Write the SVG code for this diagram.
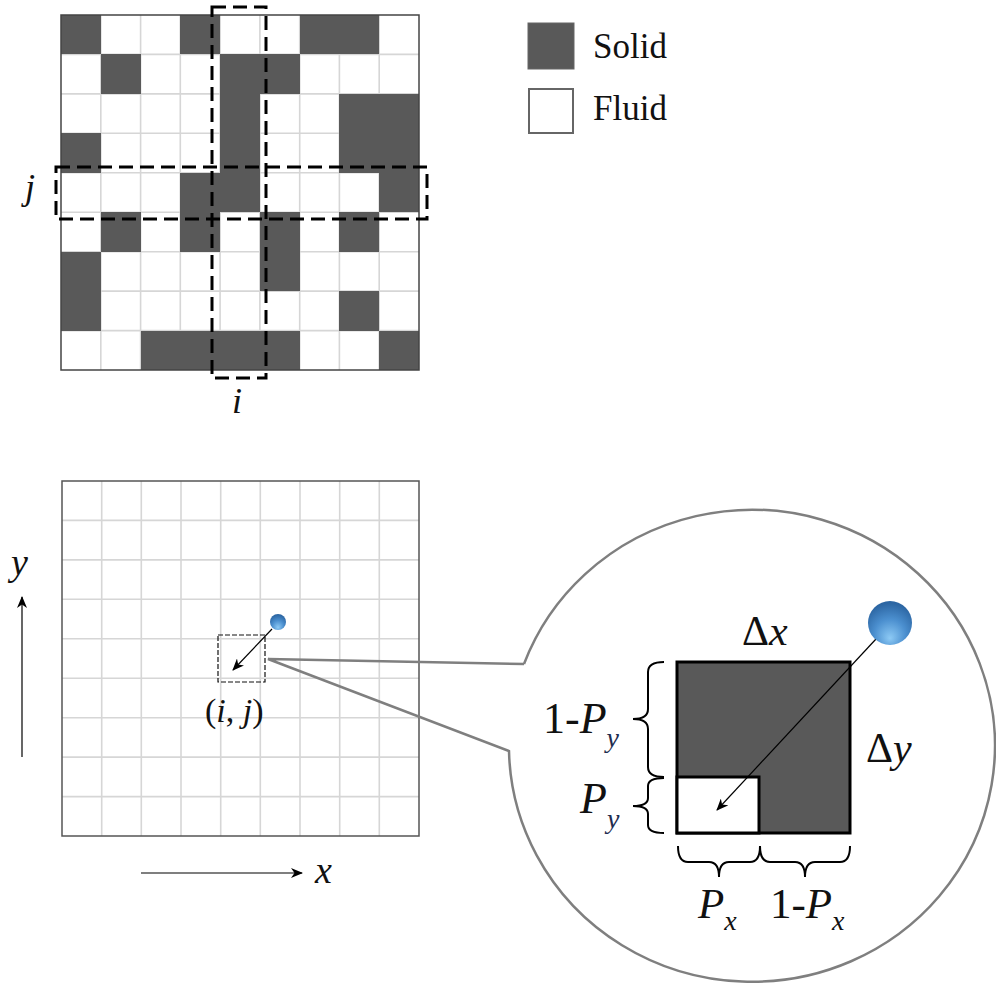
<svg xmlns="http://www.w3.org/2000/svg" width="996" height="988" viewBox="0 0 996 988">
<style>
.t{font-family:"Liberation Serif","Times New Roman",serif;fill:#111}
.it{font-style:italic}
.gl{stroke:#d6d6d6;stroke-width:1.6;fill:none}
.dk{fill:#595959}
.dash{fill:none;stroke:#000;stroke-width:3;stroke-dasharray:14 7}
.brace{fill:none;stroke:#000;stroke-width:2}
.ln{stroke:#000;stroke-width:1.2;fill:none}
.sub{fill:#1f2d50}
</style>
<defs>
<marker id="ah" viewBox="0 0 12 10" refX="11" refY="5" markerWidth="13" markerHeight="10" markerUnits="userSpaceOnUse" orient="auto">
<path d="M0,0 L12,5 L0,10 L3.5,5 Z" fill="#000"/>
</marker>
<radialGradient id="ball" cx="0.5" cy="0.7" r="0.65" fx="0.5" fy="0.85">
<stop offset="0" stop-color="#8dcaf5"/>
<stop offset="0.55" stop-color="#4b8fcf"/>
<stop offset="1" stop-color="#2c66a3"/>
</radialGradient>
</defs>
<rect width="996" height="988" fill="#fff"/>

<g id="top-grid">
<rect x="61" y="15" width="358" height="355" fill="#fff"/>
<path class="gl" d="M100.8,15V370M140.6,15V370M180.3,15V370M220.1,15V370M259.9,15V370M299.7,15V370M339.4,15V370M379.2,15V370M61,54.4H419M61,93.9H419M61,133.3H419M61,172.8H419M61,212.2H419M61,251.7H419M61,291.1H419M61,330.6H419"/>
<g transform="translate(61,15) scale(39.778,39.444)" class="dk" shape-rendering="crispEdges">
<rect x="0" y="0" width="1" height="1"/><rect x="3" y="0" width="1" height="1"/><rect x="6" y="0" width="2" height="1"/>
<rect x="1" y="1" width="1" height="1"/><rect x="4" y="1" width="2" height="1"/>
<rect x="4" y="2" width="1" height="3"/><rect x="7" y="2" width="2" height="2"/>
<rect x="0" y="3" width="1" height="1"/>
<rect x="3" y="4" width="1" height="2"/><rect x="8" y="4" width="1" height="1"/>
<rect x="1" y="5" width="1" height="1"/><rect x="5" y="5" width="1" height="2"/><rect x="7" y="5" width="1" height="1"/>
<rect x="0" y="6" width="1" height="2"/><rect x="7" y="7" width="1" height="1"/>
<rect x="2" y="8" width="4" height="1"/><rect x="8" y="8" width="1" height="1"/>
</g>
<rect x="61" y="15" width="358" height="355" fill="none" stroke="#444" stroke-width="1.5"/>
<rect class="dash" x="212" y="7" width="54" height="371"/>
<rect class="dash" x="56" y="167" width="371" height="52"/>
<text class="t it" x="25" y="199" font-size="36">j</text>
<text class="t it" x="232" y="413" font-size="36">i</text>
</g>

<g id="legend">
<rect x="528" y="23" width="46" height="46" fill="#595959" stroke="#666" stroke-width="1"/>
<text class="t" x="593" y="58" font-size="35">Solid</text>
<rect x="529" y="89" width="44" height="44" fill="#fff" stroke="#666" stroke-width="2"/>
<text class="t" x="593" y="120" font-size="35">Fluid</text>
</g>

<g id="bottom-grid">
<rect x="62" y="481" width="357" height="355" fill="#fff"/>
<path class="gl" d="M101.7,481V836M141.3,481V836M181,481V836M220.7,481V836M260.3,481V836M300,481V836M339.7,481V836M379.3,481V836M62,520.4H419M62,559.9H419M62,599.3H419M62,638.8H419M62,678.2H419M62,717.7H419M62,757.1H419M62,796.6H419"/>
<rect x="62" y="481" width="357" height="355" fill="none" stroke="#555" stroke-width="1.5"/>
</g>

<g id="axes">
<line class="ln" x1="22" y1="757" x2="22" y2="597" marker-end="url(#ah)"/>
<text class="t it" x="11" y="575" font-size="38">y</text>
<line class="ln" x1="141" y1="873" x2="302" y2="873" marker-end="url(#ah)"/>
<text class="t it" x="315" y="883" font-size="38">x</text>
</g>

<g id="connectors">
<path d="M524,664 L268,659 L509,751 A243,236 0 1 0 524,664" fill="none" stroke="#7f7f7f" stroke-width="2.5" stroke-linejoin="miter"/>
</g>

<g id="cell-ij">
<rect x="218" y="635" width="47" height="47" fill="none" stroke="#111" stroke-width="1.2" stroke-dasharray="5 2"/>
<line class="ln" x1="272" y1="629" x2="233" y2="670" marker-end="url(#ah)"/>
<circle cx="278" cy="622" r="8" fill="url(#ball)"/>
<text class="t" x="205" y="722" font-size="34">(<tspan class="it">i</tspan>, <tspan class="it">j</tspan>)</text>
</g>

<g id="zoom-cell">
<rect x="677" y="662" width="173" height="171" fill="#595959" stroke="#000" stroke-width="3"/>
<rect x="677" y="777" width="82" height="56" fill="#fff" stroke="#000" stroke-width="3"/>
<line class="ln" x1="876" y1="639" x2="717" y2="810" marker-end="url(#ah)"/>
<circle cx="890" cy="623" r="22" fill="url(#ball)"/>
<text class="t" x="742" y="645" font-size="42">Δ<tspan class="it">x</tspan></text>
<text class="t" x="866" y="762" font-size="42">Δ<tspan class="it">y</tspan></text>
</g>

<g id="braces">
<path class="brace" d="M664,662 Q648,662 648,672 L648,709 Q648,719 633,719 Q648,719 648,729 L648,767 Q648,777 664,777"/>
<path class="brace" d="M664,778 Q648,778 648,786 L648,798 Q648,806 633,806 Q648,806 648,814 L648,825 Q648,833 664,833"/>
<path class="brace" d="M678,846 Q678,862 688,862 L709,862 Q719,862 719,877 Q719,862 729,862 L750,862 Q760,862 760,846"/>
<path class="brace" d="M760,846 Q760,862 770,862 L795,862 Q805,862 805,877 Q805,862 815,862 L840,862 Q850,862 850,846"/>
</g>

<g id="labels">
<text class="t" x="543" y="733" font-size="44">1-<tspan class="it">P</tspan><tspan class="it sub" font-size="28" dy="14">y</tspan></text>
<text class="t" x="580" y="813" font-size="44"><tspan class="it">P</tspan><tspan class="it sub" font-size="28" dy="15">y</tspan></text>
<text class="t" x="698" y="918" font-size="43"><tspan class="it">P</tspan><tspan class="it" font-size="28" dy="12">x</tspan></text>
<text class="t" x="770" y="918" font-size="43">1-<tspan class="it">P</tspan><tspan class="it" font-size="28" dy="12">x</tspan></text>
</g>
</svg>
